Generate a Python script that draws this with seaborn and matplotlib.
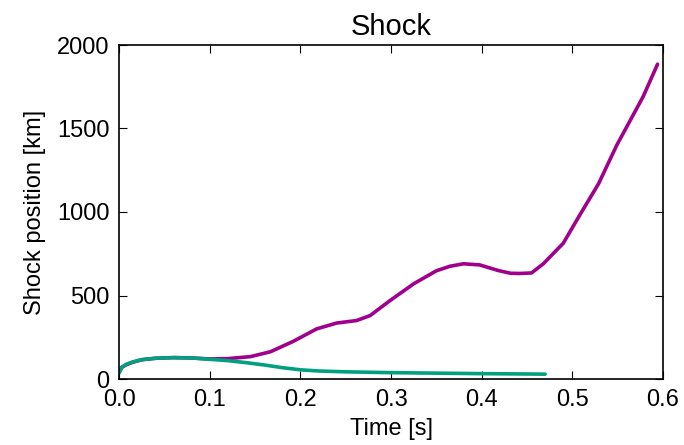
import matplotlib
matplotlib.use("Agg")
import matplotlib.pyplot as plt
import seaborn as sns
import pandas as pd

t_purple = [0.0, 0.003, 0.008, 0.015, 0.025, 0.04, 0.06, 0.08, 0.1, 0.12, 0.145, 0.167, 0.192,
            0.218, 0.24, 0.262, 0.277, 0.299, 0.325, 0.35, 0.365, 0.38, 0.398, 0.418, 0.432,
            0.442, 0.455, 0.468, 0.49, 0.508, 0.529, 0.549, 0.564, 0.578, 0.594]
r_purple = [40, 70, 85, 100, 115, 124, 128, 126, 120, 122, 134, 163, 225,
            300, 335, 350, 380, 470, 570, 648, 675, 690, 683, 650, 633,
            632, 635, 690, 813, 980, 1170, 1400, 1550, 1690, 1885]

t_green = [0.0, 0.003, 0.008, 0.015, 0.025, 0.04, 0.06, 0.08, 0.1, 0.12, 0.14, 0.16, 0.18, 0.2,
           0.22, 0.25, 0.3, 0.35, 0.4, 0.45, 0.47]
r_green = [35, 70, 88, 102, 116, 124, 128, 126, 118, 110, 98, 84, 68, 55,
           48, 43, 38, 35, 32, 30, 29]

sns.set_theme(style="ticks")
plt.rcParams['font.family'] = ['Liberation Sans', 'DejaVu Sans']
plt.rcParams['text.color'] = 'black'
plt.rcParams['axes.labelcolor'] = 'black'

fig = plt.figure(figsize=(6.84, 4.45), dpi=100)
ax = fig.add_axes([119/684, 1 - 379/445, (663-119)/684, (379-45)/445])

df_p = pd.DataFrame({"t": t_purple, "r": r_purple})
df_g = pd.DataFrame({"t": t_green, "r": r_green})
sns.lineplot(data=df_p, x="t", y="r", ax=ax, color="#a0008c", linewidth=2.6)
sns.lineplot(data=df_g, x="t", y="r", ax=ax, color="#00a080", linewidth=2.6)

ax.set_xlim(0, 0.6)
ax.set_ylim(0, 2000)
ax.set_xticks([0.0, 0.1, 0.2, 0.3, 0.4, 0.5, 0.6])
ax.set_yticks([0, 500, 1000, 1500, 2000])
ax.set_xlabel("Time [s]", fontsize=17, labelpad=5)
ax.set_ylabel("Shock position [km]", fontsize=17, labelpad=8)
ax.set_title("Shock", fontsize=21, pad=7, color="black")
ax.tick_params(direction="in", top=True, right=True, length=6, width=0.8,
               labelsize=17, colors="black")
ax.tick_params(axis="x", pad=7)
ax.tick_params(axis="y", pad=7)
for s in ax.spines.values():
    s.set_visible(True)
    s.set_color("black")
    s.set_linewidth(1.2)

fig.savefig("out.png", dpi=100)
